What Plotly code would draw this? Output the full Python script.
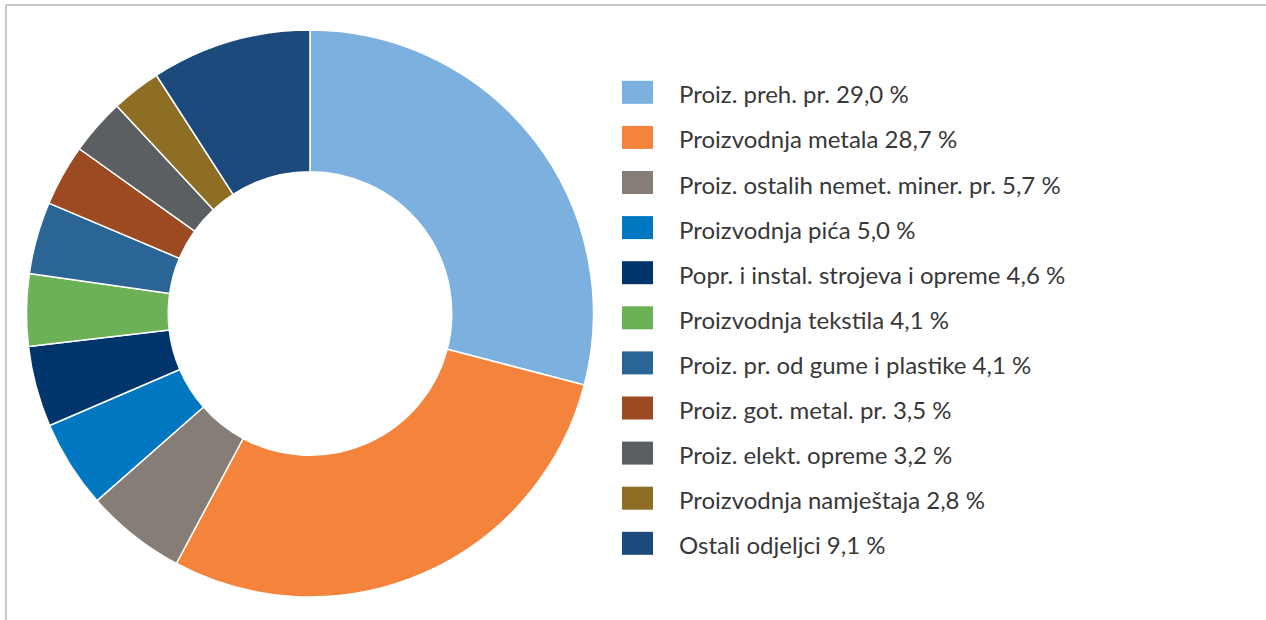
import plotly.graph_objects as go

categories = [
    "Proiz. preh. pr.",
    "Proizvodnja metala",
    "Proiz. ostalih nemet. miner. pr.",
    "Proizvodnja pića",
    "Popr. i instal. strojeva i opreme",
    "Proizvodnja tekstila",
    "Proiz. pr. od gume i plastike",
    "Proiz. got. metal. pr.",
    "Proiz. elekt. opreme",
    "Proizvodnja namještaja",
    "Ostali odjeljci",
]
values = [29.0, 28.7, 5.7, 5.0, 4.6, 4.1, 4.1, 3.5, 3.2, 2.8, 9.1]
colors = ["#7BB0DF", "#F4843C", "#867D76", "#0077C0", "#00356B", "#6BB155",
          "#2A6596", "#9C4A22", "#5B5F61", "#8E6D24", "#1C4A7C"]

W, H = 1266, 620
cx, cy, R = 310, 313.5, 283.5

labels = [f"{c} " + f"{v:.1f}".replace(".", ",") + " %" for c, v in zip(categories, values)]

fig = go.Figure(go.Pie(
    labels=labels, values=values, sort=False, direction="clockwise", rotation=0,
    hole=0.5, textinfo="none", hoverinfo="label",
    marker=dict(colors=colors, line=dict(color="white", width=1.5)),
    domain=dict(x=[(cx - R) / W, (cx + R) / W], y=[(H - cy - R) / H, (H - cy + R) / H]),
    showlegend=False,
))

shapes = [
    dict(type="line", xref="paper", yref="paper", x0=6 / W, x1=1, y0=1 - 5 / H, y1=1 - 5 / H,
         line=dict(color="#B5B5B5", width=1.5)),
    dict(type="line", xref="paper", yref="paper", x0=6 / W, x1=6 / W, y0=0, y1=1 - 5 / H,
         line=dict(color="#B5B5B5", width=1.5)),
]
annotations = []
row0, step = 92.3, 45.1
for i, (lab, col) in enumerate(zip(labels, colors)):
    ry = row0 + i * step
    shapes.append(dict(type="rect", xref="paper", yref="paper",
                       x0=622 / W, x1=653 / W, y0=1 - (ry + 11.5) / H, y1=1 - (ry - 11.5) / H,
                       fillcolor=col, line=dict(width=0)))
    annotations.append(dict(xref="paper", yref="paper", x=677 / W, y=1 - (ry + 1.5) / H,
                            xanchor="left", yanchor="middle", text=lab, showarrow=False,
                            font=dict(family="Lato", size=24, color="#383838", weight=400)))

fig.update_layout(
    width=W, height=H, margin=dict(l=0, r=0, t=0, b=0),
    paper_bgcolor="white", plot_bgcolor="white",
    shapes=shapes, annotations=annotations,
)
fig.write_html("out.html", config={"displayModeBar": False},
               post_script="document.body.style.margin='0';document.body.style.overflow='hidden';")
